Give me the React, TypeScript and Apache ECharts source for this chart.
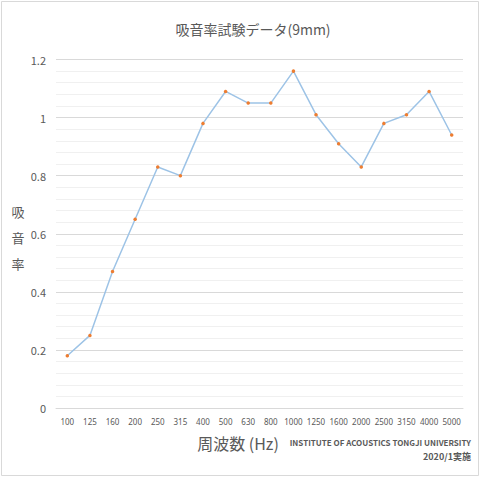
import { useEffect, useRef } from "react";
import * as echarts from "echarts";

const freqs = ["100", "125", "160", "200", "250", "315", "400", "500", "630", "800", "1000", "1250", "1600", "2000", "2500", "3150", "4000", "5000"];
const absorption = [0.18, 0.25, 0.47, 0.65, 0.83, 0.8, 0.98, 1.09, 1.05, 1.05, 1.16, 1.01, 0.91, 0.83, 0.98, 1.01, 1.09, 0.94];

const FONT = "'Noto Sans CJK JP', 'Noto Sans', sans-serif";
const GREY = "#595959";

export default function App() {
  const ref = useRef<HTMLDivElement | null>(null);

  useEffect(() => {
    document.body.style.margin = "0";
    if (!ref.current) return;
    const chart = echarts.init(ref.current, null, { renderer: "svg" });
    chart.setOption({
      animation: false,
      backgroundColor: "#fff",
      textStyle: { fontFamily: FONT },
      title: {
        text: "吸音率試験データ(9mm)",
        left: 248,
        textAlign: "center",
        top: 17,
        textStyle: { color: GREY, fontSize: 14, fontWeight: "normal", fontFamily: FONT }
      },
      grid: { left: 56, right: 17, top: 59.5, bottom: 72 },
      xAxis: {
        type: "category",
        data: freqs,
        boundaryGap: true,
        axisLine: { show: true, lineStyle: { color: "#d9d9d9" } },
        axisTick: { show: false },
        axisLabel: { color: GREY, fontSize: 8, interval: 0, margin: 9, fontFamily: "'Noto Sans', sans-serif" }
      },
      yAxis: {
        type: "value",
        min: 0,
        max: 1.2,
        interval: 0.2,
        axisLine: { show: false },
        axisTick: { show: false },
        axisLabel: { color: GREY, fontSize: 11, margin: 10 },
        splitLine: { lineStyle: { color: "#d9d9d9" } },
        minorTick: { show: false, splitNumber: 5 },
        minorSplitLine: { show: true, lineStyle: { color: "#f0f0f0" } }
      },
      series: [
        {
          type: "line",
          data: absorption,
          symbol: "circle",
          symbolSize: 3.5,
          itemStyle: { color: "#ed7d31" },
          lineStyle: { color: "#9dc3e6", width: 1.5 }
        }
      ],
      graphic: [
        {
          type: "rect",
          shape: { x: 1.5, y: 1.5, width: 477, height: 474 },
          style: { fill: "none", stroke: "#d9d9d9", lineWidth: 1 },
          silent: true
        },
        {
          type: "text",
          x: 18,
          y: 237,
          style: {
            text: "吸\n音\n率",
            fill: GREY,
            fontSize: 13,
            lineHeight: 26,
            fontFamily: FONT,
            align: "center",
            verticalAlign: "middle"
          }
        },
        {
          type: "text",
          x: 238,
          y: 443,
          style: {
            text: "周波数 (Hz)",
            fill: GREY,
            fontSize: 16,
            fontFamily: FONT,
            align: "center",
            verticalAlign: "middle"
          }
        },
        {
          type: "text",
          x: 471,
          y: 442,
          style: {
            text: "INSTITUTE OF ACOUSTICS TONGJI UNIVERSITY",
            fill: GREY,
            fontSize: 8,
            fontWeight: "bold",
            fontFamily: FONT,
            align: "right",
            verticalAlign: "middle"
          }
        },
        {
          type: "text",
          x: 471,
          y: 456,
          style: {
            text: "2020/1実施",
            fill: GREY,
            fontSize: 9,
            fontWeight: "bold",
            fontFamily: FONT,
            align: "right",
            verticalAlign: "middle"
          }
        }
      ]
    });
    return () => {
      chart.dispose();
    };
  }, []);

  return <div ref={ref} style={{ width: 480, height: 480 }} />;
}
